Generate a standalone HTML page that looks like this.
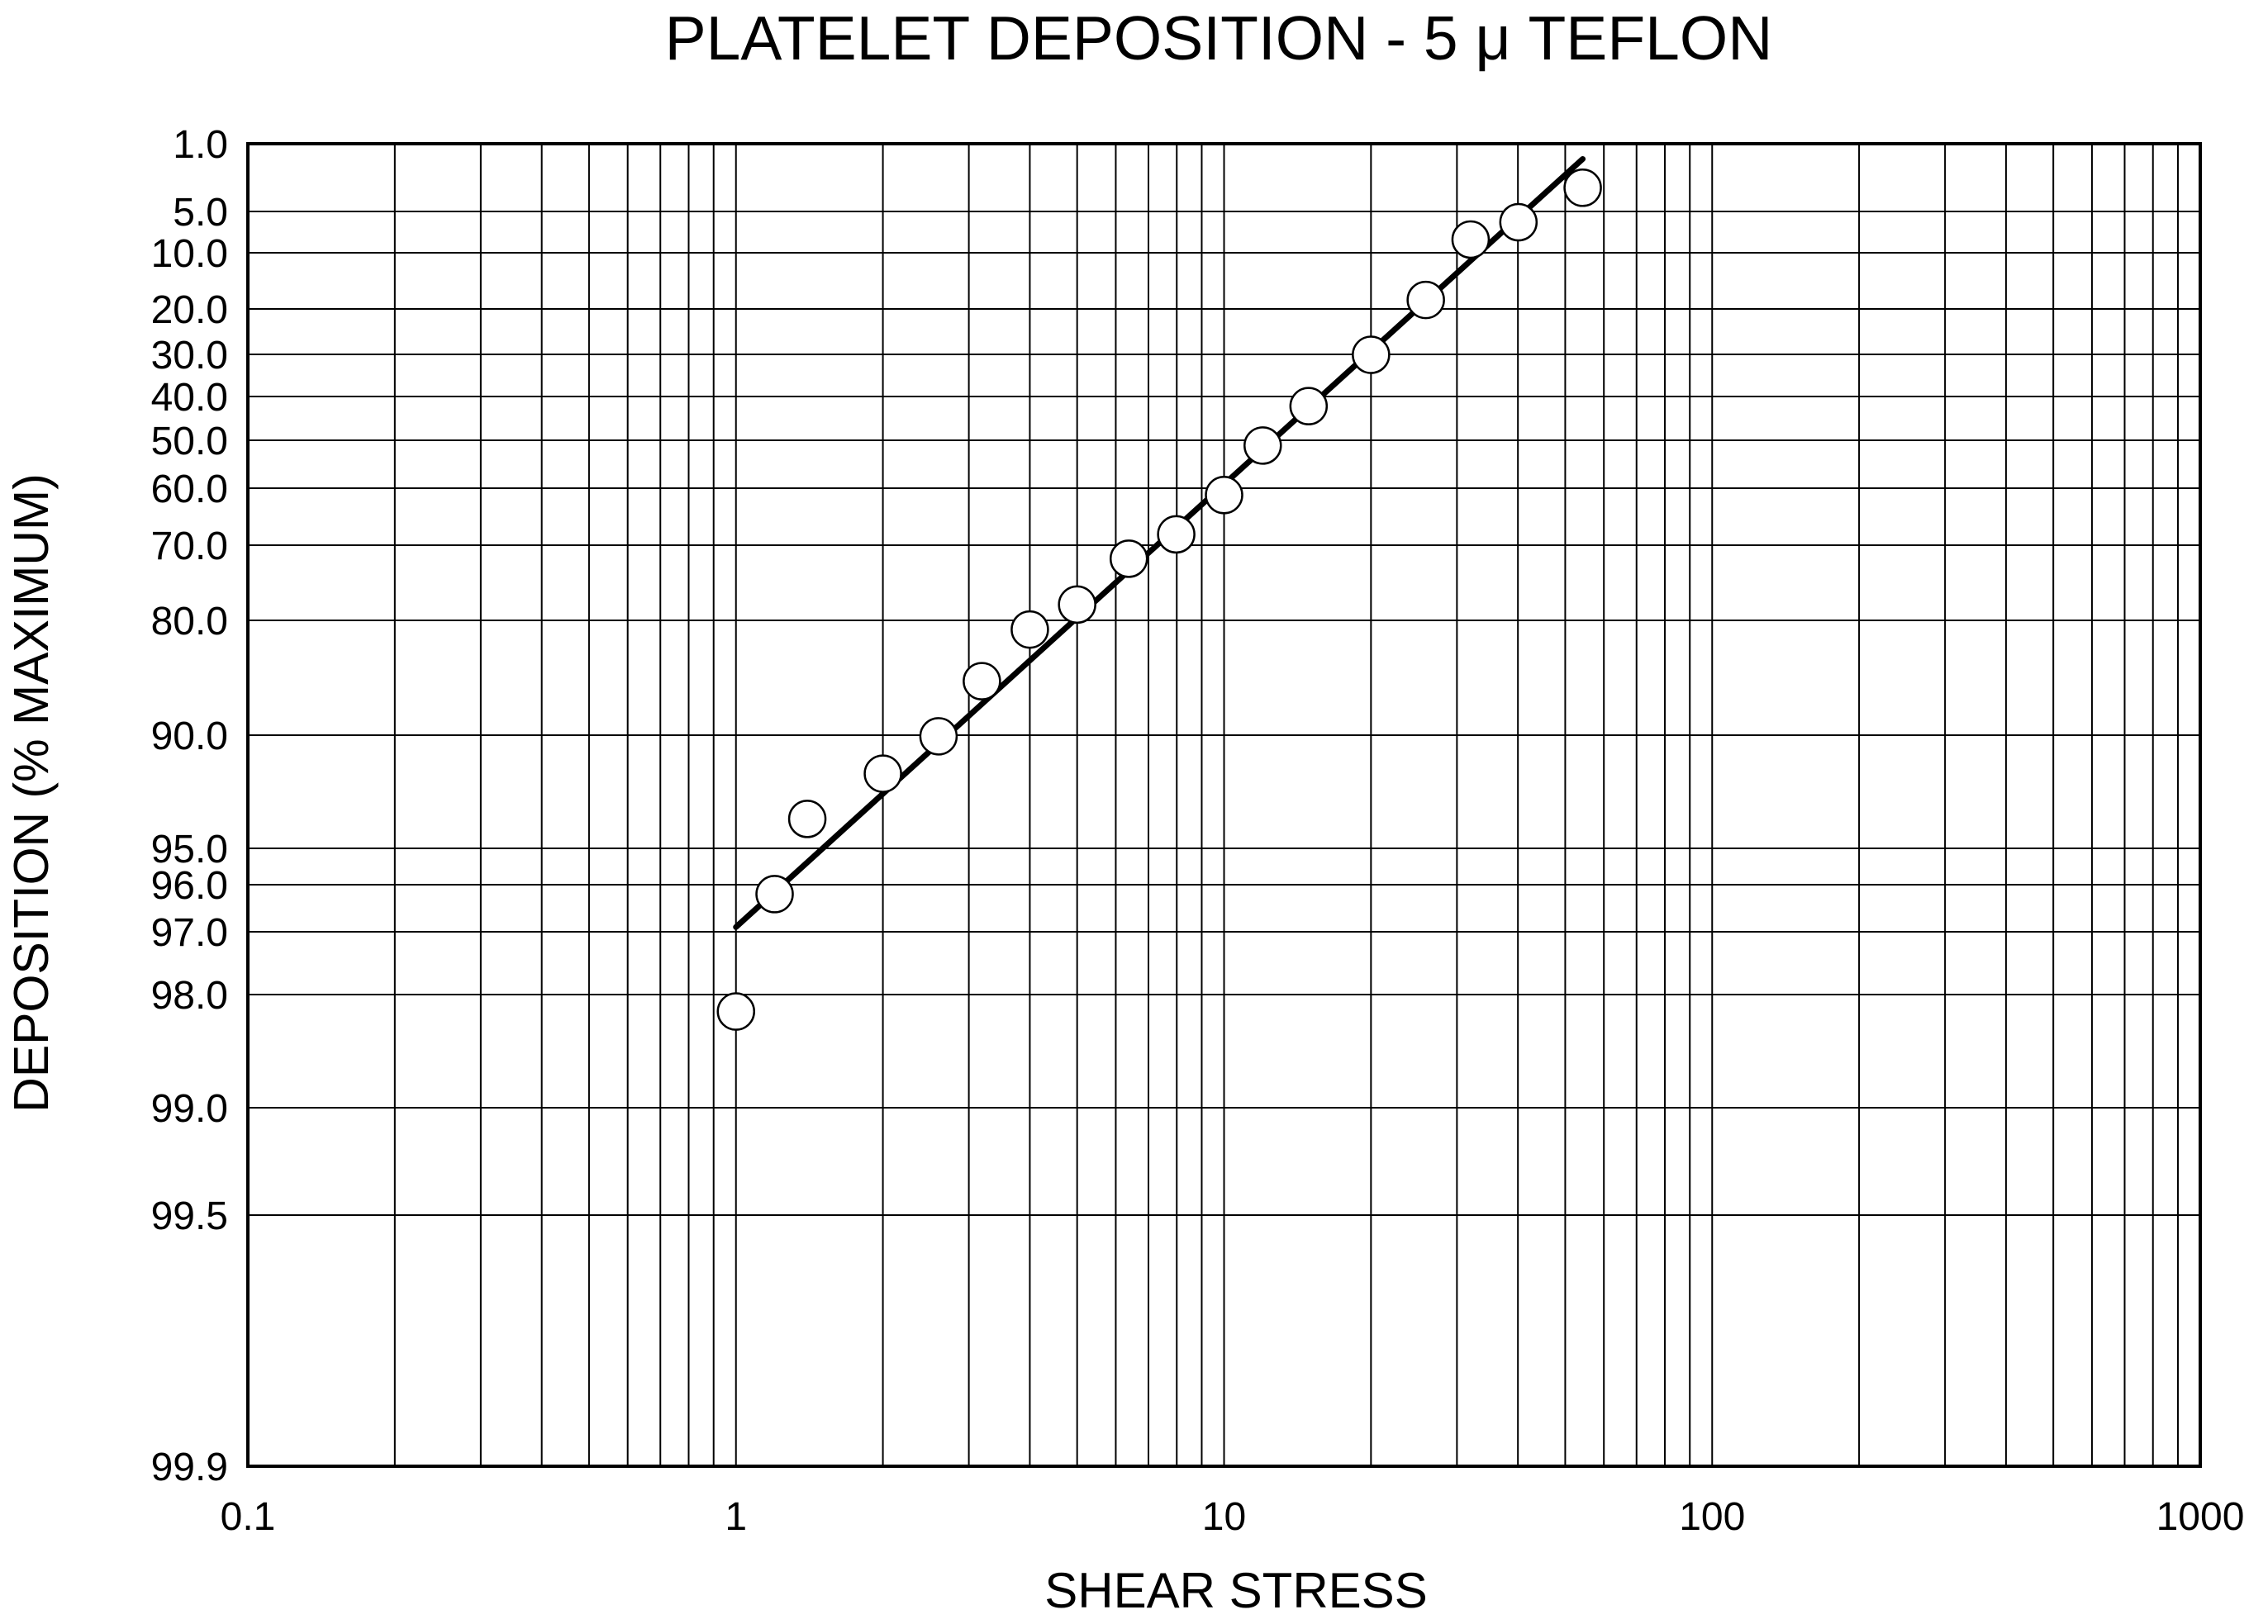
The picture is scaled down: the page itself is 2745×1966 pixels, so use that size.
<!DOCTYPE html>
<html><head><meta charset="utf-8"><style>
html,body{margin:0;padding:0;background:#fff;}
svg{display:block;font-family:"Liberation Sans",Arial,sans-serif;}
</style></head><body>
<svg id="chart" width="2745" height="1966" viewBox="0 0 2745 1966">
<text x="1475" y="72" font-size="75" text-anchor="middle">PLATELET DEPOSITION - 5 μ TEFLON</text>
<text x="1496" y="1946" font-size="60" text-anchor="middle">SHEAR STRESS</text>
<text transform="translate(58,960) rotate(-90)" font-size="59" text-anchor="middle">DEPOSITION (% MAXIMUM)</text>
<g id="grid"></g><g id="marks"></g><g id="labels"></g>
</svg>
<script>
const yTickValues = [1.0, 5.0, 10.0, 20.0, 30.0, 40.0, 50.0, 60.0, 70.0, 80.0, 90.0, 95.0, 96.0, 97.0, 98.0, 99.0, 99.5, 99.9];
const yTickLabels = ["1.0","5.0","10.0","20.0","30.0","40.0","50.0","60.0","70.0","80.0","90.0","95.0","96.0","97.0","98.0","99.0","99.5","99.9"];
const xTickValues = [0.1, 1, 10, 100, 1000];
const xTickLabels = ["0.1","1","10","100","1000"];
const shearStress = [1.0, 1.2, 1.4, 2.0, 2.6, 3.19, 4.0, 5.0, 6.38, 7.98, 10.0, 12.0, 14.9, 20.0, 25.9, 32.0, 40.1, 54.3];
const deposition = [98.15, 96.2, 93.7, 91.7, 90.05, 85.3, 80.8, 77.9, 71.8, 68.1, 61.2, 51.1, 42.2, 30.1, 18.4, 8.4, 6.3, 3.6];
const fitX = [1.0, 54.3];
const fitY = [96.9, 1.9];

// axis configuration (pixel geometry of the printed paper scale)
const L = 300, R = 2663, T = 174, B = 1775;
const yAxisPx = [174, 256, 306, 374, 429, 480, 533, 591, 660, 751, 890, 1027, 1071, 1128, 1204, 1341, 1471, 1775];
function xs(v){ return L + (Math.log10(v) + 1) / 4 * (R - L); }
function ys(v){
  if (v <= yTickValues[0]) return yAxisPx[0];
  for (let i = 1; i < yTickValues.length; i++) {
    if (v <= yTickValues[i]) {
      const f = (v - yTickValues[i-1]) / (yTickValues[i] - yTickValues[i-1]);
      return yAxisPx[i-1] + f * (yAxisPx[i] - yAxisPx[i-1]);
    }
  }
  return yAxisPx[yAxisPx.length-1];
}
const NS = "http://www.w3.org/2000/svg";
function mk(tag, attrs, parent){ const e = document.createElementNS(NS, tag); for (const k in attrs) e.setAttribute(k, attrs[k]); parent.appendChild(e); return e; }
const grid = document.getElementById('grid'), marks = document.getElementById('marks'), labels = document.getElementById('labels');

for (let d = -1; d < 3; d++) {
  for (let m = 2; m <= 9; m++) {
    const x = xs(m * Math.pow(10, d));
    const ln = mk('line', {x1:x, y1:T, x2:x, y2:B, stroke:'#000', 'stroke-width':2}, grid);
    
    
  }
}
xTickValues.forEach((v, i) => {
  const x = xs(v);
  const ln = mk('line', {x1:x, y1:T, x2:x, y2:B, stroke:'#000', 'stroke-width':2}, grid);
  
  
  const t = mk('text', {x:x, y:1852, 'font-size':48, 'text-anchor':'middle'}, labels);
  t.textContent = xTickLabels[i];
  
  
});
yTickValues.forEach((v, i) => {
  const y = ys(v);
  const ln = mk('line', {x1:L, y1:y, x2:R, y2:y, stroke:'#000', 'stroke-width':2}, grid);
  
  
  const t = mk('text', {x:276, y:y + 17, 'font-size':48, 'text-anchor':'end'}, labels);
  t.textContent = yTickLabels[i];
  
  
});
const frame = mk('rect', {x:L, y:T, width:R-L, height:B-T, fill:'none', stroke:'#000', 'stroke-width':4}, grid);



const fit = mk('line', {x1:xs(fitX[0]), y1:ys(fitY[0]), x2:xs(fitX[1]), y2:ys(fitY[1]), stroke:'#000', 'stroke-width':7, 'stroke-linecap':'round'}, marks);



shearStress.forEach((v, i) => {
  const c = mk('circle', {cx:xs(v), cy:ys(deposition[i]), r:22, fill:'#fff', stroke:'#000', 'stroke-width':2.5}, marks);
  
  
});
</script>
</body></html>
